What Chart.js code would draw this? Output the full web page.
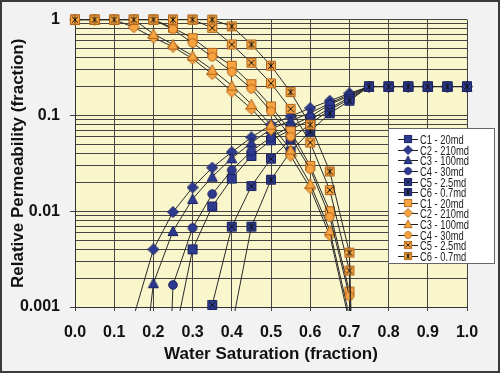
<!DOCTYPE html>
<html>
<head>
<meta charset="utf-8">
<script src="https://cdn.jsdelivr.net/npm/chart.js@4/dist/chart.umd.min.js"></script>
<style>
  html, body { margin: 0; padding: 0; background: #f2f2f2; }
  #wrap { width: 500px; height: 373px; }
</style>
</head>
<body>
<div id="wrap"><canvas id="chart" width="500" height="373"></canvas></div>
<script>
// ─── Data ────────────────────────────────────────────────────────────────────
// Water saturation steps (fraction)
const SW = [0.00, 0.05, 0.10, 0.15, 0.20, 0.25, 0.30, 0.35, 0.40, 0.45, 0.50,
            0.55, 0.60, 0.65, 0.70, 0.75, 0.80, 0.85, 0.90, 0.95, 1.00];

const CORE_NAMES = ['C1 - 20md', 'C2 - 210md', 'C3 - 100md', 'C4 - 30md', 'C5 - 2.5md', 'C6 - 0.7md'];

// Water relative permeability (blue)
const KRW_C1 = [null, null, null, null, null, 0.0004, 0.004, 0.0112, 0.0219, 0.0377, 0.055,
                0.071, 0.09, 0.119, 0.154, 0.2, 0.2, 0.2, 0.2, 0.2, 0.2];
const KRW_C2 = [null, null, null, 0.0008, 0.004, 0.0098, 0.0177, 0.0285, 0.0414, 0.059, 0.08,
                0.098, 0.119, 0.142, 0.17, 0.2, 0.2, 0.2, 0.2, 0.2, 0.2];
const KRW_C3 = [null, null, null, 0.00003, 0.00177, 0.0062, 0.0134, 0.0229, 0.0357, 0.052, 0.072,
                0.088, 0.106, 0.134, 0.166, 0.2, 0.2, 0.2, 0.2, 0.2, 0.2];
const KRW_C4 = [null, null, null, null, 1e-8, 0.0017, 0.0067, 0.0151, 0.0268, 0.0424, 0.059,
                0.077, 0.097, 0.13, 0.16, 0.2, 0.2, 0.2, 0.2, 0.2, 0.2];
const KRW_C5 = [null, null, null, null, null, null, null, 0.00105, 0.0069, 0.0183, 0.0353,
                0.056, 0.082, 0.114, 0.148, 0.2, 0.2, 0.2, 0.2, 0.2, 0.2];
const KRW_C6 = [null, null, null, null, null, null, null, null, 0.00062, 0.0069, 0.0213,
                0.042, 0.068, 0.105, 0.142, 0.2, 0.2, 0.2, 0.2, 0.2, 0.2];

// Oil relative permeability (orange)
const KRO_C1 = [1, 1, 1, 1, 1, 0.82, 0.64, 0.45, 0.33, 0.212, 0.124,
                0.0685, 0.0297, 0.01, 0.00145, 1e-10, null, null, null, null, null];
const KRO_C2 = [1, 1, 1, 0.83, 0.65, 0.52, 0.39, 0.27, 0.177, 0.117, 0.071,
                0.038, 0.0174, 0.0056, 0.0007, null, null, null, null, null, null];
const KRO_C3 = [1, 1, 1, 1, 0.71, 0.55, 0.42, 0.30, 0.205, 0.131, 0.08,
                0.044, 0.0194, 0.0063, 0.0008, null, null, null, null, null, null];
const KRO_C4 = [1, 1, 1, 1, 1, 0.79, 0.57, 0.41, 0.285, 0.19, 0.11,
                0.06, 0.0275, 0.0087, 0.0013, 1e-10, null, null, null, null, null];
const KRO_C5 = [1, 1, 1, 1, 1, 1, 1, 0.82, 0.55, 0.355, 0.216,
                0.117, 0.052, 0.0166, 0.0024, 1e-10, null, null, null, null, null];
const KRO_C6 = [1, 1, 1, 1, 1, 1, 1, 1, 0.85, 0.55, 0.33,
                0.175, 0.08, 0.026, 0.0037, 1e-10, null, null, null, null, null];

const Y_TICKS = [0.001, 0.01, 0.1, 1];

// ─── Markers ─────────────────────────────────────────────────────────────────

const BLUE   = { fill: '#2e3a8f', stroke: '#1a2360' };
const ORANGE = { fill: '#f7a440', stroke: '#b0641c' };
const SHAPES = ['square', 'diamond', 'triangle', 'circle', 'x', 'star'];

function marker(shape, col) {
  const c = document.createElement('canvas');
  c.width = 12; c.height = 12;
  const g = c.getContext('2d');
  g.fillStyle = col.fill; g.strokeStyle = col.stroke; g.lineWidth = 1;
  g.beginPath();
  if (shape === 'circle') g.arc(6, 6, 4.3, 0, Math.PI * 2);
  else if (shape === 'diamond') {
    g.moveTo(6, 0.5); g.lineTo(11.5, 6); g.lineTo(6, 11.5); g.lineTo(0.5, 6); g.closePath();
  } else if (shape === 'triangle') {
    g.moveTo(6, 1); g.lineTo(11, 10.5); g.lineTo(1, 10.5); g.closePath();
  } else g.rect(1.5, 1.5, 9, 9);
  g.fill(); g.stroke();
  if (shape === 'x' || shape === 'star') {
    g.strokeStyle = '#111';
    g.beginPath();
    g.moveTo(3, 3); g.lineTo(9, 9); g.moveTo(9, 3); g.lineTo(3, 9);
    if (shape === 'star') { g.moveTo(6, 2.5); g.lineTo(6, 9.5); }
    g.stroke();
  }
  return c;
}

// ─── Datasets ────────────────────────────────────────────────────────────────

const SERIES = [
  [KRW_C1, BLUE], [KRW_C2, BLUE], [KRW_C3, BLUE], [KRW_C4, BLUE], [KRW_C5, BLUE], [KRW_C6, BLUE],
  [KRO_C1, ORANGE], [KRO_C2, ORANGE], [KRO_C3, ORANGE], [KRO_C4, ORANGE], [KRO_C5, ORANGE], [KRO_C6, ORANGE],
];

const datasets = SERIES.map(([vals, col], i) => ({
  label:       CORE_NAMES[i % 6],
  data:        SW.map((x, j) => ({ x, y: vals[j] })),
  borderColor: '#2a2a2a',
  borderWidth: 1,
  tension:     0,
  fill:        false,
  pointStyle:  marker(SHAPES[i % 6], col),
  pointRadius: 5,
  clip:        { left: 7, top: 7, right: 7, bottom: 4 },
  order:       SERIES.length - i,   // later series drawn on top, like Excel
}));

// ─── Plugins ─────────────────────────────────────────────────────────────────

const background = {
  id: 'background',
  beforeDraw(chart) {
    const { ctx, chartArea: a } = chart;
    ctx.save();
    ctx.fillStyle = '#f2f2f2';
    ctx.fillRect(0, 0, chart.width, chart.height);
    ctx.fillStyle = '#faf6cc';
    ctx.fillRect(a.left, a.top, a.right - a.left, a.bottom - a.top);
    ctx.strokeStyle = '#3a3a3a';
    ctx.lineWidth = 2;
    ctx.strokeRect(1, 1, chart.width - 2, chart.height - 2);
    ctx.restore();
  },
};

const legendBox = {
  id: 'legendBox',
  afterDraw(chart) {
    const g = chart.ctx;
    g.save();
    g.fillStyle = '#fff';
    g.fillRect(388.5, 128.5, 106, 135);
    g.strokeStyle = '#666';
    g.lineWidth = 1;
    g.strokeRect(388.5, 128.5, 106, 135);
    chart.data.datasets.forEach((ds, i) => {
      const y = Math.round(139 + i * 10.64);
      g.strokeStyle = '#222';
      g.beginPath();
      g.moveTo(398, y + 0.5); g.lineTo(418, y + 0.5);
      g.stroke();
      g.drawImage(ds.pointStyle, 408 - 5, y - 5, 10, 10);
      g.save();
      g.translate(420, y + 1);
      g.scale(0.72, 1);
      g.fillStyle = '#222';
      g.font = '13px "Liberation Sans", Arial, sans-serif';
      g.textBaseline = 'middle';
      g.fillText(ds.label, 0, 0);
      g.restore();
    });
    g.restore();
  },
};

// ─── Chart ───────────────────────────────────────────────────────────────────

const isDecade = v => Math.abs(Math.log10(v) - Math.round(Math.log10(v))) < 1e-9;
const FONT = { family: '"Liberation Sans", Arial, sans-serif', weight: 'bold' };

new Chart(document.getElementById('chart'), {
  type: 'line',
  data: { datasets },
  plugins: [background, legendBox],
  options: {
    responsive: false,
    animation: false,
    events: [],
    layout: { padding: { top: 17, right: 33, left: 0, bottom: 0 } },
    plugins: { legend: { display: false }, tooltip: { enabled: false } },
    scales: {
      x: {
        type: 'linear',
        min: 0,
        max: 1,
        afterFit: s => { s.height = 66; },
        ticks: {
          stepSize: 0.1,
          color: '#111',
          padding: 12,
          font: { ...FONT, size: 16 },
          callback: v => v.toFixed(1),
        },
        grid: { color: '#444', tickLength: 4, tickColor: '#444' },
        border: { color: '#333' },
        title: {
          display: true,
          text: 'Water Saturation (fraction)',
          color: '#111',
          font: { ...FONT, size: 17 },
          padding: { top: 0, bottom: 8 },
        },
      },
      y: {
        type: 'logarithmic',
        min: 0.001,
        max: 1,
        afterFit: s => { s.width = 75; },
        afterBuildTicks: s => {
          const t = [];
          Y_TICKS.slice(0, -1).forEach(d => {
            for (let m = 1; m < 10; m++) t.push({ value: d * m });
          });
          t.push({ value: 1 });
          s.ticks = t;
        },
        ticks: {
          autoSkip: false,
          color: '#111',
          padding: 10,
          font: { ...FONT, size: 16 },
          callback: v => (isDecade(v) ? String(Number(v.toPrecision(3))) : ''),
        },
        grid: {
          color: '#444',
          tickLength: 5,
          tickColor: c => (c.tick && isDecade(c.tick.value) ? '#444' : 'rgba(0,0,0,0)'),
        },
        border: { color: '#333' },
        title: {
          display: true,
          text: 'Relative Permeability (fraction)',
          color: '#111',
          font: { ...FONT, size: 17 },
          padding: { top: 8, bottom: 0 },
        },
      },
    },
  },
});
</script>
</body>
</html>
